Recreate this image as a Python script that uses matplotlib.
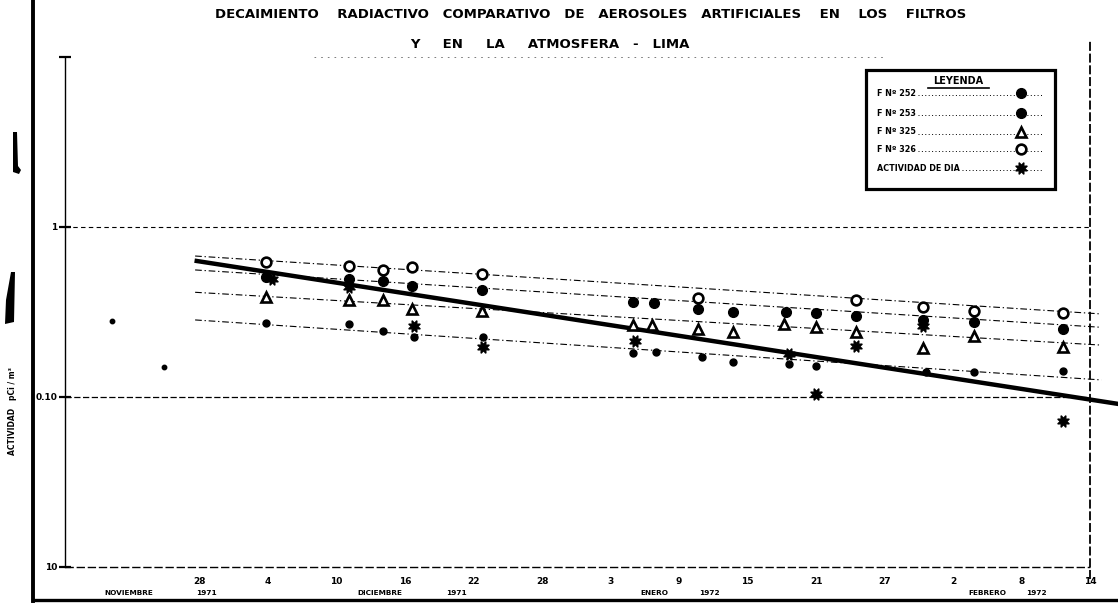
import matplotlib
matplotlib.use("Agg")
import matplotlib.pyplot as plt
from matplotlib.lines import Line2D
from matplotlib.patches import Rectangle, Polygon

# Days counted from 28 November 1971
tick_days = [0, 6, 12, 18, 24, 30, 36, 42, 48, 54, 60, 66, 72, 78]
tick_labels = ["28", "4", "10", "16", "22", "28", "3", "9", "15", "21", "27", "2", "8", "14"]

# Filter F Nº 326 (open circles)
f326_days = [5.8, 13.1, 16.1, 18.6, 24.7, 43.7, 57.5, 63.4, 67.8, 75.6]
f326_vals = [0.62, 0.59, 0.56, 0.58, 0.53, 0.38, 0.37, 0.34, 0.32, 0.31]

# Filter F Nº 253 (large filled circles)
f253_days = [5.8, 13.1, 16.1, 18.6, 24.7, 38.0, 39.8, 43.7, 46.7, 51.4, 54.0, 57.5, 63.4, 67.8, 75.6]
f253_vals = [0.508, 0.494, 0.481, 0.45, 0.426, 0.362, 0.355, 0.331, 0.315, 0.315, 0.311, 0.30, 0.283, 0.277, 0.251]

# Filter F Nº 325 (triangles)
f325_days = [5.8, 13.1, 16.1, 18.6, 24.7, 38.0, 39.6, 43.7, 46.7, 51.2, 54.0, 57.5, 63.4, 67.8, 75.6]
f325_vals = [0.389, 0.372, 0.372, 0.328, 0.321, 0.264, 0.264, 0.25, 0.24, 0.267, 0.258, 0.24, 0.195, 0.228, 0.198]

# Filter F Nº 252 (small filled circles)
f252_days = [5.8, 13.1, 16.1, 18.8, 24.8, 38.0, 40.0, 44.0, 46.7, 51.6, 54.0, 63.6, 67.8, 75.6]
f252_vals = [0.271, 0.268, 0.245, 0.224, 0.224, 0.182, 0.184, 0.171, 0.16, 0.157, 0.152, 0.14, 0.14, 0.142]

# Daily atmospheric activity
dia_days = [6.3, 13.1, 18.8, 24.8, 38.1, 51.6, 54.0, 57.5, 63.4, 75.6]
dia_vals = [0.494, 0.445, 0.262, 0.196, 0.214, 0.179, 0.104, 0.20, 0.262, 0.072]

# Isolated early readings (November)
early_days = [-7.7, -3.1]
early_vals = [0.28, 0.15]

# Decay trend lines for each filter
trend_days = [-0.4, 79.0]
trend326 = [0.675, 0.308]
trend253 = [0.559, 0.257]
trend325 = [0.413, 0.202]
trend252 = [0.284, 0.126]

# Atmospheric decay line
fit_days = [-0.45, 80.5]
fit_vals = [0.634, 0.091]

W, H = 1118, 608
fig = plt.figure(figsize=(W / 100, H / 100), dpi=100)
fig.patch.set_facecolor("white")

def fx(px):
    return px / W

def fy(py):
    return 1 - py / H

ax = fig.add_axes([fx(65), fy(567), 1025 / W, 510 / H])
ax.set_yscale("log")
ax.set_ylim(0.01, 10)
ax.set_xlim(-11.8, 78)
ax.set_facecolor("white")

for s in ["top", "bottom", "right"]:
    ax.spines[s].set_visible(False)
ax.spines["left"].set_linewidth(1.0)

BOLD = dict(fontweight="bold", family="DejaVu Sans")

# horizontal reference lines
for yv, lw, dash in [(1, 0.8, (4, 3)), (0.1, 0.9, (5, 2)), (0.01, 1.0, (6, 2))]:
    ax.axhline(yv, color="black", lw=lw, ls=(0, dash), clip_on=False, zorder=1)
ax.plot([10, 60], [10, 10], color="black", lw=0.6, ls=(0, (2, 6)), alpha=0.6, zorder=1)

# right border (dashed) extending past the plotting area
ax.plot([78, 78], [0.0085, 12.5], color="black", lw=1.3, ls=(0, (5, 1.5)), clip_on=False, zorder=2)

# y ticks
ax.set_yticks([0.01, 0.1, 1, 10])
ax.set_yticklabels(["10", "0.10", "1", ""], fontsize=6.5, **BOLD)
ax.minorticks_off()
ax.tick_params(axis="y", direction="inout", length=9, width=1.6, pad=1)

# x ticks
ax.set_xticks(tick_days)
ax.set_xticklabels(tick_labels, fontsize=6.5, **BOLD)
ax.tick_params(axis="x", length=0, pad=7)

# month labels
xt = ax.get_xaxis_transform()
for d, txt in [(-6.2, "NOVIEMBRE"), (0.6, "1971"), (15.8, "DICIEMBRE"), (22.5, "1971"),
               (39.8, "ENERO"), (44.7, "1972"), (69.0, "FEBRERO"), (73.3, "1972")]:
    ax.text(d, -0.051, txt, transform=xt, ha="center", va="center", fontsize=5.3, **BOLD)

# trend lines of the filters
dashdot = (0, (6, 2.5, 1.2, 2.5))
for vals in [trend326, trend253, trend325, trend252]:
    ax.plot(trend_days, vals, color="black", lw=0.8, ls=dashdot, clip_on=False, zorder=2)

# atmospheric decay line
ax.plot(fit_days, fit_vals, color="black", lw=3.2, solid_capstyle="butt", clip_on=False, zorder=3)

# data points
ax.plot(f326_days, f326_vals, ls="none", marker="o", ms=7, mfc="white", mec="black", mew=1.9, zorder=4)
ax.plot(f253_days, f253_vals, ls="none", marker="o", ms=7, mfc="black", mec="black", zorder=4)
ax.plot(f325_days, f325_vals, ls="none", marker="^", ms=7, mfc="white", mec="black", mew=1.9, zorder=4)
ax.plot(f252_days, f252_vals, ls="none", marker="o", ms=5, mfc="black", mec="black", zorder=4)
ax.plot(dia_days, dia_vals, ls="none", marker=(8, 1, 22.5), ms=9, mfc="black", mec="black", mew=1, zorder=5)
ax.plot(early_days, early_vals, ls="none", marker="o", ms=3.2, mfc="black", mec="black", zorder=4)

# title
fig.text(fx(591), fy(15), "DECAIMIENTO    RADIACTIVO   COMPARATIVO   DE   AEROSOLES   ARTIFICIALES    EN    LOS    FILTROS",
         ha="center", va="center", fontsize=9.5, **BOLD)
fig.text(fx(550), fy(45), "Y     EN     LA     ATMOSFERA   -   LIMA",
         ha="center", va="center", fontsize=9.5, **BOLD)

# y axis label
fig.text(fx(13), fy(411), "ACTIVIDAD   pCi / m³", rotation=90, ha="center", va="center",
         fontsize=5.5, **BOLD)

# frame of the sheet
fig.add_artist(Line2D([fx(33), fx(33)], [fy(0), fy(601)], color="black", lw=2.8))
fig.add_artist(Line2D([fx(33), fx(W)], [fy(600), fy(600)], color="black", lw=2.4))
for pts in [[(13, 132), (17, 132), (18, 166), (21, 170), (19, 174), (13, 172)],
            [(11, 272), (15, 272), (14, 322), (5, 324), (6, 300)]]:
    fig.add_artist(Polygon([(fx(a), fy(b)) for a, b in pts], closed=True, color="black", lw=0))

# legend box
fig.add_artist(Rectangle((fx(866), fy(189)), 189 / W, 119 / H, fill=True, facecolor="white",
                         edgecolor="black", lw=2.3, zorder=6))
fig.text(fx(958), fy(81), "LEYENDA", ha="center", va="center", fontsize=7, zorder=7, **BOLD)
fig.add_artist(Line2D([fx(928), fx(989)], [fy(88), fy(88)], color="black", lw=1.2, zorder=7))

legend_rows = [
    ("F Nº 252", dict(marker="o", ms=7, mfc="black", mec="black"), 93),
    ("F Nº 253", dict(marker="o", ms=7, mfc="black", mec="black"), 113),
    ("F Nº 325", dict(marker="^", ms=7, mfc="white", mec="black", mew=1.9), 132),
    ("F Nº 326", dict(marker="o", ms=7, mfc="white", mec="black", mew=1.9), 149),
    ("ACTIVIDAD DE DIA", dict(marker=(8, 1, 22.5), ms=9, mfc="black", mec="black"), 168),
]
for txt, mk, py in legend_rows:
    t = fig.text(fx(877), fy(py), txt, ha="left", va="center", fontsize=5.8, zorder=7, **BOLD)
    fig.canvas.draw()
    x_end = t.get_window_extent().x1
    fig.add_artist(Line2D([(x_end + 2) / W, fx(1042)], [fy(py + 2), fy(py + 2)], color="black", lw=0.7,
                          ls=(0, (1, 2.5)), zorder=7))
    fig.add_artist(Line2D([fx(1021)], [fy(py)], ls="none", zorder=8, **mk))

fig.savefig("out.png", dpi=100, facecolor="white")
